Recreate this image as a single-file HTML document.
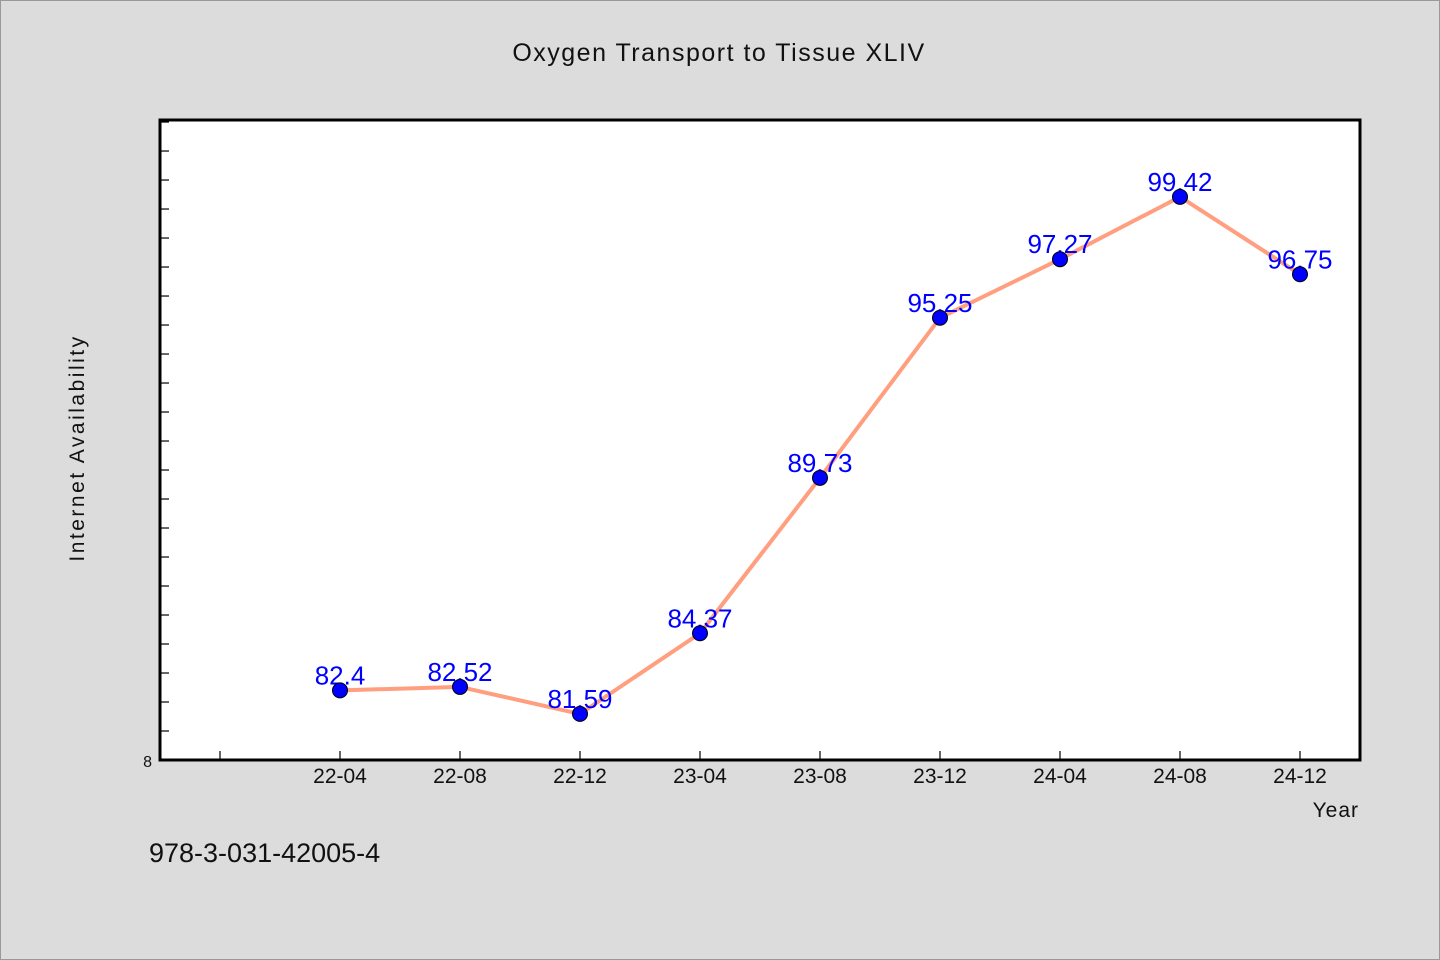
<!DOCTYPE html>
<html><head><meta charset="utf-8"><style>
html,body{margin:0;padding:0;background:#dcdcdc;}
svg{display:block;}
text{font-family:"WenQuanYi Zen Hei","Liberation Sans",sans-serif;}
</style></head><body>
<svg id="chart" width="1440" height="960" xmlns="http://www.w3.org/2000/svg">
<rect x="0.5" y="0.5" width="1439" height="959" fill="#dcdcdc" stroke="#999"/>
<text x="719" y="61" text-anchor="middle" font-size="25" letter-spacing="1.5" fill="#111">Oxygen Transport to Tissue XLIV</text>
<rect x="160" y="120" width="1200" height="640" fill="#fff" stroke="#000" stroke-width="3"/>
<g id="yticks"></g>
<g id="xticks"></g>
<text transform="translate(84,448) rotate(-90)" text-anchor="middle" font-size="21" letter-spacing="2.5" fill="#111">Internet Availability</text>
<text x="1359" y="817" text-anchor="end" font-size="21" letter-spacing="1" fill="#111">Year</text>
<text x="149" y="862" font-size="27" fill="#111">978-3-031-42005-4</text>
<g id="series"></g>
</svg>
<script>
const categories = ["22-04","22-08","22-12","23-04","23-08","23-12","24-04","24-08","24-12"];
const values = [82.4,82.52,81.59,84.37,89.73,95.25,97.27,99.42,96.75];
const valueLabels = ["82.4","82.52","81.59","84.37","89.73","95.25","97.27","99.42","96.75"];
const yMin = 80, yMax = 102.07;
const NS="http://www.w3.org/2000/svg";
const L=160,R=1360,T=120,B=760;
function y(v){return B-(v-yMin)/(yMax-yMin)*(B-T);}
function x(i){return 220+120*(i+1);}
function mk(t,a,p){const e=document.createElementNS(NS,t);for(const k in a)e.setAttribute(k,a[k]);p.appendChild(e);return e;}
const yt=document.getElementById('yticks');
for(let v=yMin+1;v<=yMax;v++){
  const t=mk('line',{x1:L,x2:L+9,y1:y(v),y2:y(v),stroke:'#000','stroke-width':1.2},yt);
  
  
}
const yl=mk('text',{x:152,y:767,'text-anchor':'end','font-size':16,fill:'#111'},yt);


yl.textContent='8';
const xt=document.getElementById('xticks');
for(let i=-1;i<categories.length;i++){
  const tk=mk('line',{x1:x(i),x2:x(i),y1:B,y2:B-9,stroke:'#000','stroke-width':1.2},xt);
  
  
  if(i>=0){
    const tl=mk('text',{x:x(i),y:783,'text-anchor':'middle','font-size':21,fill:'#111'},xt);
    
    
    tl.textContent=categories[i];
  }
}
const s=document.getElementById('series');
const pts=values.map((v,i)=>x(i)+','+y(v)).join(' ');
const line=mk('polyline',{points:pts,fill:'none',stroke:'#ff9f7f','stroke-width':4,'stroke-linejoin':'round'},s);


values.forEach((v,i)=>{
  const lb=mk('text',{x:x(i),y:y(v)-6,'text-anchor':'middle','font-size':26,fill:'#0000ff'},s);
  
  
  lb.textContent=valueLabels[i];
});
values.forEach((v,i)=>{
  const c=mk('circle',{cx:x(i),cy:y(v),r:7.5,fill:'#0000ff',stroke:'#000','stroke-width':1},s);
  
  
});
</script>
</body></html>
